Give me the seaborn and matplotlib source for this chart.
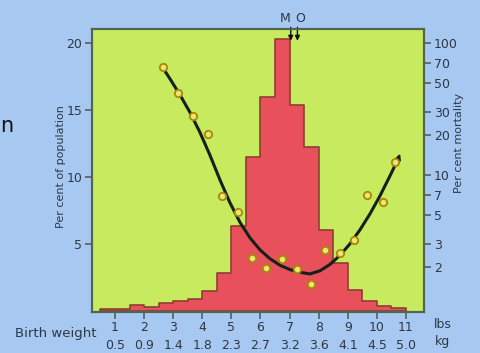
import matplotlib
matplotlib.use("Agg")
import matplotlib.pyplot as plt
import seaborn as sns
import numpy as np
import pandas as pd

# ---- data ----
bin_edges = [0.5, 1.0, 1.5, 2.0, 2.5, 3.0, 3.5, 4.0, 4.5, 5.0, 5.5, 6.0, 6.5,
             7.0, 7.5, 8.0, 8.5, 9.0, 9.5, 10.0, 10.5, 11.0]
pct_population = [0.2, 0.2, 0.5, 0.3, 0.6, 0.75, 0.9, 1.5, 2.9, 6.35, 11.5, 16.0,
                  20.3, 15.4, 12.3, 6.1, 3.6, 1.6, 0.75, 0.4, 0.24]

point_lbs = [2.66, 3.18, 3.69, 4.21, 4.67, 5.22, 5.72, 6.18, 6.73, 7.24, 7.72,
             8.22, 8.73, 9.22, 9.67, 10.22, 10.62]
point_mort = [65.8, 42.1, 27.9, 20.6, 6.9, 5.2, 2.37, 1.99, 2.31, 1.95, 1.50,
              2.72, 2.58, 3.20, 7.0, 6.24, 12.5]

curve_lbs = [2.625, 2.89, 3.234, 3.577, 3.921, 4.265, 4.608, 4.952, 5.296,
             5.639, 5.983, 6.326, 6.670, 7.014, 7.357, 7.701, 8.045, 8.388,
             8.732, 9.076, 9.419, 9.763, 10.107, 10.450, 10.735]
curve_mort = [65.8, 53.5, 40.4, 29.8, 21.0, 14.1, 9.18, 6.15, 4.38,
              3.34, 2.71, 2.32, 2.07, 1.92, 1.83, 1.78, 1.88, 2.10,
              2.46, 3.01, 3.84, 5.07, 6.95, 9.84, 13.3]

lbs_ticks = [1, 2, 3, 4, 5, 6, 7, 8, 9, 10, 11]
kg_labels = ["0.5", "0.9", "1.4", "1.8", "2.3", "2.7", "3.2", "3.6", "4.1", "4.5", "5.0"]
left_ticks = [5, 10, 15, 20]
right_ticks = [2, 3, 5, 7, 10, 20, 30, 50, 70, 100]
mean_lbs = 7.04
optimum_lbs = 7.27

# ---- style ----
BG = "#a7c8f1"
PLOT_BG = "#c8ea5e"
RED = "#e8505c"
EDGE = "#8a4030"
TXT = "#2e3845"
FRAME = "#4f6652"

sns.set_theme(style="white")
plt.rcParams["font.family"] = ["DejaVu Sans"]

fig = plt.figure(figsize=(4.81, 3.53), dpi=100, facecolor=BG)
ax = fig.add_axes([92 / 481, 1 - 311.5 / 353, (424 - 92) / 481, (311.5 - 29) / 353])
ax.set_facecolor(PLOT_BG)

centers = [(a + b) / 2 for a, b in zip(bin_edges[:-1], bin_edges[1:])]
df_hist = pd.DataFrame({"lbs": centers, "pct": pct_population})
sns.histplot(data=df_hist, x="lbs", weights="pct", bins=bin_edges, element="step",
             fill=True, color=RED, alpha=1, edgecolor=EDGE, linewidth=1.2, ax=ax)

ax.set_xlim(0.21, 11.62)
ax.set_ylim(0, 21.08)
ax.set_xticks(lbs_ticks)
ax.set_xticklabels([f"{l}\n{k}" for l, k in zip(lbs_ticks, kg_labels)],
                   fontsize=9, color=TXT, linespacing=1.45)
ax.set_yticks(left_ticks)
ax.set_yticklabels([str(t) for t in left_ticks], fontsize=9, color=TXT)
ax.tick_params(axis="both", which="both", direction="out", length=5, width=1.2,
               color="#555f60", pad=2, bottom=True, left=True)
ax.set_xlabel("")
ax.set_ylabel("")
for s in ax.spines.values():
    s.set_color(FRAME)
    s.set_linewidth(1.5)

ax2 = ax.twinx()
ax2.set_yscale("log")
ax2.set_ylim(0.924, 127.6)
df_curve = pd.DataFrame({"lbs": curve_lbs, "mort": curve_mort})
sns.lineplot(data=df_curve, x="lbs", y="mort", sort=False, color="#16201a",
             linewidth=2.2, ax=ax2)
ax2.annotate("", xy=(10.83, 15.2), xytext=(10.72, 13.0),
             arrowprops=dict(arrowstyle="-|>", color="#16201a", lw=1.5,
                             mutation_scale=8))
df_pts = pd.DataFrame({"lbs": point_lbs, "mort": point_mort})
sns.scatterplot(data=df_pts, x="lbs", y="mort", s=28, color="#eee27a",
                edgecolor="#a68a00", linewidth=1.3, zorder=5, ax=ax2)
ax2.set_yticks(right_ticks)
ax2.set_yticklabels([str(t) for t in right_ticks], fontsize=9, color=TXT)
ax2.yaxis.set_minor_locator(matplotlib.ticker.NullLocator())
ax2.tick_params(axis="y", which="both", direction="out", length=5, width=1.2,
                color="#555f60", pad=2, right=True)
ax2.set_xlabel("")
ax2.set_ylabel("")
for s in ax2.spines.values():
    s.set_color(FRAME)
    s.set_linewidth(1.5)

# M / O arrows
for xv in (mean_lbs, optimum_lbs):
    ax.annotate("", xy=(xv, 20.2), xytext=(xv, 21.2),
                arrowprops=dict(arrowstyle="-|>", color="#111111", lw=1.0,
                                mutation_scale=7, shrinkA=0, shrinkB=0),
                annotation_clip=False)
fig.text(285 / 481, 1 - 19 / 353, "M", fontsize=9, color=TXT, ha="center", va="center")
fig.text(300 / 481, 1 - 19 / 353, "O", fontsize=9, color=TXT, ha="center", va="center")

# axis titles and extra labels
fig.text(61 / 481, 1 - 167 / 353, "Per cent of population", rotation=90,
         fontsize=8, color=TXT, ha="center", va="center")
fig.text(459 / 481, 1 - 143 / 353, "Per cent mortality", rotation=90,
         fontsize=8, color=TXT, ha="center", va="center")
fig.text(56 / 481, 1 - 333 / 353, "Birth weight", fontsize=9.5, color=TXT,
         ha="center", va="center")
fig.text(443 / 481, 1 - 325 / 353, "lbs", fontsize=9, color=TXT, ha="center", va="center")
fig.text(443 / 481, 1 - 341 / 353, "kg", fontsize=9, color=TXT, ha="center", va="center")
fig.text(0.0, 1 - 126 / 353, "n", fontsize=15, color="#111111", ha="left", va="center")

fig.savefig("out.png", dpi=100, facecolor=BG)
